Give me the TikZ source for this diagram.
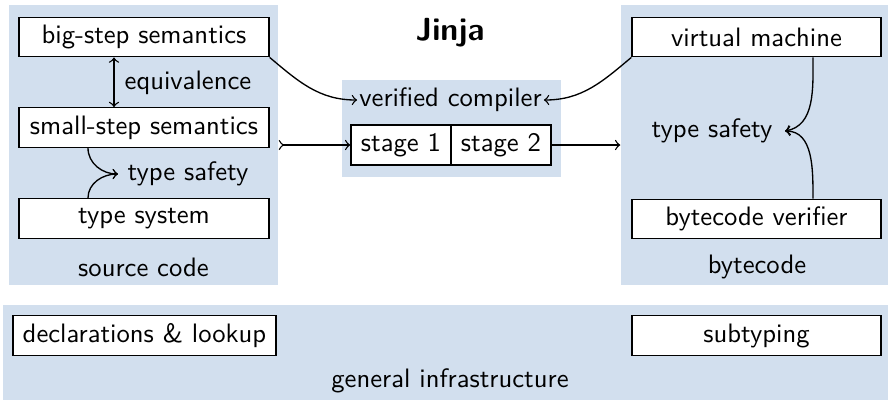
\documentclass[tikz,border=0pt]{standalone}
\usepackage{fontspec}
\usetikzlibrary{arrows}
\definecolor{panelblue}{RGB}{210,223,238}
\newcommand\px{0.375pt}
\begin{document}
\begin{tikzpicture}[x=0.375pt,y=-0.375pt,font=\sffamily,line width=0.5pt,
  panel/.style={fill=panelblue,draw=none,inner sep=0pt},
  box/.style={draw,fill=white,inner sep=0pt,minimum height=39.5*\px},
  lbl/.style={inner sep=0pt}]
\useasboundingbox (0,0) rectangle (888,399);
% panels
\node[panel,minimum width=269*\px,minimum height=280*\px] (src) at (143.5,145) {};
\node[panel,minimum width=219*\px,minimum height=97*\px] (mid) at (451.5,128.5) {};
\node[panel,minimum width=276*\px,minimum height=280*\px] (byt) at (759,145) {};
\node[panel,minimum width=894*\px,minimum height=98*\px] (inf) at (450,354) {};
% title
\node[lbl,font=\sffamily\large\bfseries] (jinja) at (450,33) {Jinja};
% source code boxes
\node[box,minimum width=250*\px] (bs) at (144,37) {big-step semantics};
\node[box,minimum width=250*\px] (ss) at (144,127.5) {small-step semantics};
\node[box,minimum width=250*\px] (ts) at (144,218.5) {type system};
\node[lbl] (srcl) at (143.5,267) {source code};
\node[lbl,anchor=west] (eq) at (124,83) {equivalence};
\node[anchor=west,inner sep=3.4pt] (tsl) at (118,174) {type safety};
% compiler
\node[inner sep=0.6pt] (vc) at (450.5,100) {verified compiler};
\node[box,minimum width=100*\px,minimum height=40*\px] (st1) at (401,145) {stage 1};
\node[box,minimum width=100*\px,minimum height=40*\px] (st2) at (501,145) {stage 2};
% bytecode
\node[box,minimum width=249*\px] (vm) at (756.5,37) {virtual machine};
\node[box,minimum width=249*\px] (bv) at (756.5,219) {bytecode verifier};
\node[lbl] (bytl) at (757,267) {bytecode};
\node[anchor=east,inner xsep=4.5pt,inner ysep=3pt] (tsr) at (785,131) {type safety};
% infrastructure
\node[box,minimum width=263*\px] (decl) at (144.5,335.5) {declarations \& lookup};
\node[box,minimum width=249*\px] (sub) at (756.5,335.5) {subtyping};
\node[lbl] (infl) at (450,381) {general infrastructure};
% connectors
\draw[<->] ([xshift=-30*\px]bs.south) -- ([xshift=-30*\px]ss.north);
\draw[->] ([xshift=-56*\px]ss.south) to[out=-90,in=180] (tsl.west);
\draw[->] ([xshift=-56*\px]ts.north) to[out=90,in=180] (tsl.west);
\draw[->] ([xshift=56.5*\px]vm.south) to[out=-90,in=10] (tsr.east);
\draw[->] ([xshift=56.5*\px]bv.north) to[out=90,in=0] (tsr.east);
\draw[->] (bs.south east) to[out=-40,in=180] (vc.west);
\draw[->] (vm.south west) to[out=-140,in=0] (vc.east);
\draw[>->] (src.east |- st1.west) -- (st1.west);
\draw[->] (st2.east) -- (byt.west |- st2.east);
\end{tikzpicture}
\end{document}
